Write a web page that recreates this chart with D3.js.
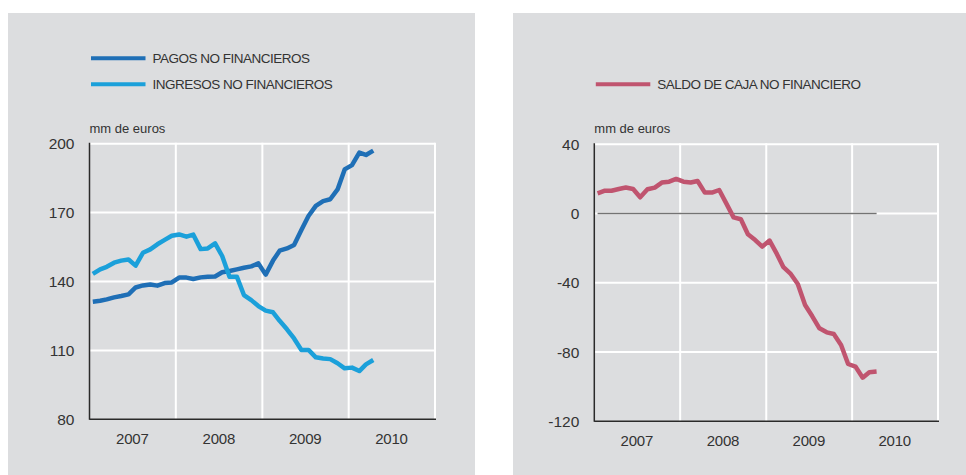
<!DOCTYPE html>
<html>
<head>
<meta charset="utf-8">
<script src="https://cdn.jsdelivr.net/npm/d3@7"></script>
<style>
  html, body { margin: 0; padding: 0; background: #fff; }
  svg { display: block; font-family: "Liberation Sans", Arial, sans-serif; }
</style>
</head>
<body>
<svg id="chart" width="966" height="475"></svg>
<script>
// monthly observations, Jan 2007 – Apr 2010 (12-month cumulative)
const startMonth = '2007-01';
const nMonths = 40;
const years = [2007, 2008, 2009, 2010];

const pagos = [
    131.2, 131.6, 132.2, 133.1, 133.7, 134.4, 137.4, 138.3, 138.7, 138.2, 139.3, 139.6,
    141.7, 141.7, 141.1, 141.8, 142.1, 142.2, 144.0, 144.6, 145.3, 146.0, 146.6, 147.9,
    143.0, 149.1, 153.4, 154.4, 155.9, 162.4, 168.5, 172.9, 175.0, 175.8, 180.1, 188.8,
    190.7, 196.1, 195.1, 197.0
];
const ingresos = [
    143.3, 145.3, 146.4, 148.2, 149.1, 149.6, 146.9, 152.5, 154.0, 156.2, 158.1, 159.9,
    160.5, 159.5, 160.4, 154.1, 154.4, 156.6, 151.1, 142.1, 142.1, 134.1, 131.9, 129.3,
    127.3, 126.6, 122.9, 119.2, 115.2, 110.2, 110.2, 107.0, 106.5, 106.2, 104.4, 102.2,
    102.5, 101.0, 103.9, 105.8
];
const saldo = [
    11.7, 13.2, 13.2, 14.2, 15.0, 14.2, 9.4, 14.0, 15.0, 17.9, 18.4, 20.0,
    18.4, 17.9, 18.8, 12.1, 12.1, 13.6, 5.9, -2.2, -3.3, -12.0, -15.3, -19.1,
    -15.6, -23.3, -31.0, -34.9, -40.7, -52.8, -59.2, -66.3, -68.6, -69.6, -75.9, -86.9,
    -88.4, -94.8, -91.7, -91.3
];

const leftTicks = [80, 110, 140, 170, 200];
const rightTicks = [-120, -80, -40, 0, 40];
const unitLabel = 'mm de euros';

const COLORS = {
    bg: '#dcdddf',
    pagos: '#1f6fb6',
    ingresos: '#1ba0da',
    saldo: '#c0546f',
    text: '#333',
    axis: '#2a2a2a',
    zero: '#737373'
};

const parseMonth = d3.timeParse('%Y-%m');
const months = d3.range(nMonths).map(i => d3.timeDay.offset(d3.timeMonth.offset(parseMonth(startMonth), i), 14));

const svg = d3.select('#chart');

function drawPanel(opts) {
    const g = svg.append('g');

    g.append('rect')
        .attr('x', opts.bg[0]).attr('y', opts.bg[1])
        .attr('width', opts.bg[2]).attr('height', opts.bg[3])
        .attr('fill', COLORS.bg);

    const x = d3.scaleTime()
        .domain([new Date(years[0], 0, 1), new Date(years[years.length - 1] + 1, 0, 1)])
        .range([opts.x0, opts.x1]);
    const y = d3.scaleLinear()
        .domain(opts.domain)
        .range([opts.y1, opts.y0]);

    // white grid
    g.append('g')
        .selectAll('line')
        .data(opts.ticks.slice(1))
        .enter().append('line')
        .attr('x1', opts.x0).attr('x2', opts.x1)
        .attr('y1', d => y(d)).attr('y2', d => y(d))
        .attr('stroke', '#fff').attr('stroke-width', 2);

    g.append('g')
        .selectAll('line')
        .data(years.map(yr => new Date(yr + 1, 0, 1)))
        .enter().append('line')
        .attr('x1', d => x(d)).attr('x2', d => x(d))
        .attr('y1', opts.y0 - 1).attr('y2', opts.y1)
        .attr('stroke', '#fff').attr('stroke-width', 2);

    // axes
    g.append('line')
        .attr('x1', opts.x0).attr('x2', opts.x0)
        .attr('y1', opts.y0 - 1).attr('y2', opts.y1 + 0.5)
        .attr('stroke', COLORS.axis).attr('stroke-width', 1.5);
    g.append('line')
        .attr('x1', opts.x0).attr('x2', opts.x1 + 1)
        .attr('y1', opts.y1).attr('y2', opts.y1)
        .attr('stroke', COLORS.axis).attr('stroke-width', 1.5);

    // tick labels
    g.append('g')
        .selectAll('text')
        .data(opts.ticks)
        .enter().append('text')
        .attr('x', opts.x0 - 15)
        .attr('y', d => y(d))
        .attr('dy', '0.36em')
        .attr('text-anchor', 'end')
        .attr('font-size', 15.5)
        .attr('fill', COLORS.text)
        .text(d => d);

    g.append('g')
        .selectAll('text')
        .data(years)
        .enter().append('text')
        .attr('x', d => x(new Date(d, 6, 1)))
        .attr('y', opts.y1 + 25)
        .attr('text-anchor', 'middle')
        .attr('font-size', 15)
        .attr('letter-spacing', -0.2)
        .attr('fill', COLORS.text)
        .text(d => d);

    g.append('text')
        .attr('x', opts.x0)
        .attr('y', opts.y0 - 11)
        .attr('font-size', 13)
        .attr('fill', COLORS.text)
        .text(unitLabel);

    if (opts.zeroLine) {
        g.append('line')
            .attr('x1', x(months[0])).attr('x2', x(months[months.length - 1]))
            .attr('y1', y(0)).attr('y2', y(0))
            .attr('stroke', COLORS.zero).attr('stroke-width', 1.5);
    }

    const line = d3.line()
        .x((d, i) => x(months[i]))
        .y(d => y(d));

    opts.series.forEach(s => {
        g.append('path')
            .datum(s.values)
            .attr('d', line)
            .attr('fill', 'none')
            .attr('stroke', s.color)
            .attr('stroke-width', 4.5)
            .attr('stroke-linejoin', 'round');
    });

    // legend
    opts.series.forEach((s, i) => {
        const ly = opts.legendY + i * opts.legendStep;
        g.append('line')
            .attr('x1', opts.x0 + 1.5).attr('x2', opts.x0 + 56)
            .attr('y1', ly).attr('y2', ly)
            .attr('stroke', s.color).attr('stroke-width', 4);
        g.append('text')
            .attr('x', opts.x0 + 63)
            .attr('y', ly)
            .attr('dy', '0.36em')
            .attr('font-size', 13.5)
            .attr('letter-spacing', -0.5)
            .attr('fill', COLORS.text)
            .text(s.name);
    });
}

drawPanel({
    bg: [8, 13, 467, 462],
    x0: 89.5, x1: 435, y0: 143.7, y1: 419.3,
    domain: [80, 200],
    ticks: leftTicks,
    legendY: 58.3, legendStep: 26,
    series: [
        { name: 'PAGOS NO FINANCIEROS', values: pagos, color: COLORS.pagos },
        { name: 'INGRESOS NO FINANCIEROS', values: ingresos, color: COLORS.ingresos }
    ]
});

drawPanel({
    bg: [513, 13, 453, 462],
    x0: 594.3, x1: 938, y0: 144.3, y1: 421.3,
    domain: [-120, 40],
    ticks: rightTicks,
    zeroLine: true,
    legendY: 84.3, legendStep: 26,
    series: [
        { name: 'SALDO DE CAJA NO FINANCIERO', values: saldo, color: COLORS.saldo }
    ]
});
</script>
</body>
</html>
